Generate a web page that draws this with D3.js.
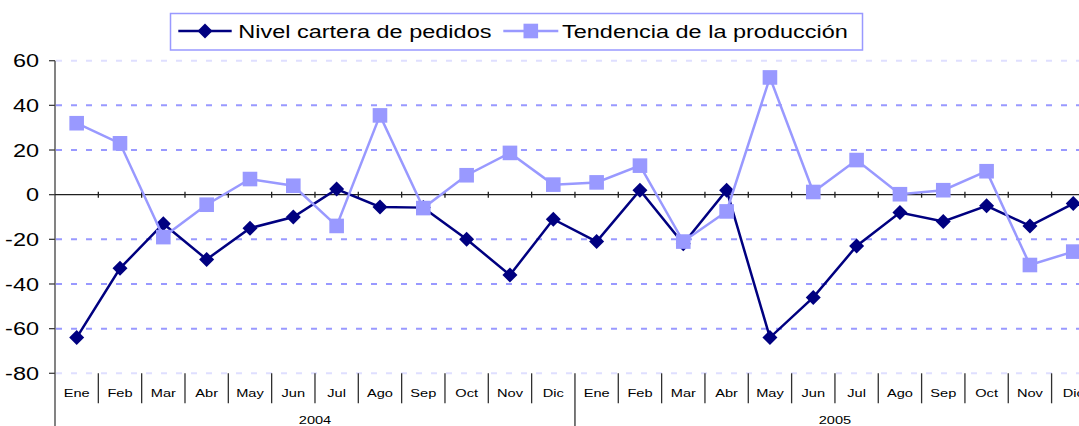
<!DOCTYPE html>
<html>
<head>
<meta charset="utf-8">
<script src="https://cdn.jsdelivr.net/npm/d3@7"></script>
<style>
  body { margin: 0; background: #fff; }
  svg { display: block; font-family: "Liberation Sans", Arial, sans-serif; }
</style>
</head>
<body>
<script>
// chart data
var months = ["Ene","Feb","Mar","Abr","May","Jun","Jul","Ago","Sep","Oct","Nov","Dic"];
var years = ["2004", "2005"];
var nivelCartera = [-64, -33, -13, -29, -15, -10, 2.5, -5.5, -5.8, -20, -36, -11,
                    -21, 2, -22, 2, -64, -46, -23, -8, -12, -5, -14, -4];
var tendencia = [32, 23, -19, -4.5, 7, 4, -14, 35.5, -6, 8.7, 18.7, 4.5,
                 5.5, 13, -21, -7.5, 52.5, 1.2, 15.5, 0.2, 2, 10.5, -31.5, -25.5];
var yTicks = [-80, -60, -40, -20, 0, 20, 40, 60];
var seriesNames = ["Nivel cartera de pedidos", "Tendencia de la producción"];

var W = 1079, H = 426;
var stretch = 1.27; // the source image is stretched horizontally

var svg = d3.select("body").append("svg")
    .attr("width", W)
    .attr("height", H);

// one key per month of each year
var keys = [];
years.forEach(function(yr) {
    months.forEach(function(m) { keys.push(yr + "-" + m); });
});

var x = d3.scaleBand()
    .domain(keys)
    .range([55, 55 + 24 * 43.33])
    .padding(0);

var y = d3.scaleLinear()
    .domain([-80, 60])
    .range([373.3, 60.7]);

function label(g, txt, px, py, size, anchor) {
    return g.append("text")
        .attr("transform", "translate(" + px + "," + py + ") scale(" + stretch + ",1)")
        .attr("text-anchor", anchor || "middle")
        .attr("font-size", size)
        .attr("fill", "#000")
        .text(txt);
}

// gridlines
svg.append("g").selectAll("line")
    .data(yTicks.filter(function(d) { return d != 0; }))
    .enter().append("line")
    .attr("x1", 56)
    .attr("x2", W)
    .attr("y1", function(d) { return y(d); })
    .attr("y2", function(d) { return y(d); })
    .attr("stroke", "#9999FF")
    .attr("stroke-width", 2)
    .attr("stroke-dasharray", "6,9")
    .attr("opacity", function(d) { return (d == 60 || d == -80) ? 0.3 : 1; });

// y axis
var yAxis = svg.append("g");
yAxis.append("line")
    .attr("x1", 55).attr("x2", 55)
    .attr("y1", y(60)).attr("y2", H)
    .attr("stroke", "#404040").attr("stroke-width", 1.3);
yAxis.selectAll("line.tick")
    .data(yTicks)
    .enter().append("line")
    .attr("class", "tick")
    .attr("x1", 49).attr("x2", 55)
    .attr("y1", function(d) { return y(d); })
    .attr("y2", function(d) { return y(d); })
    .attr("stroke", "#404040").attr("stroke-width", 1.3);
yTicks.forEach(function(t) {
    label(yAxis, t, 39, y(t) + 6.6, 18.5, "end");
});

// zero line with ticks at band edges
var zeroAxis = svg.append("g");
zeroAxis.append("line")
    .attr("x1", 55).attr("x2", W)
    .attr("y1", y(0)).attr("y2", y(0))
    .attr("stroke", "#202020").attr("stroke-width", 1.3);
zeroAxis.selectAll("line.tick")
    .data(keys.slice(1))
    .enter().append("line")
    .attr("class", "tick")
    .attr("x1", function(d) { return x(d); })
    .attr("x2", function(d) { return x(d); })
    .attr("y1", y(0) - 3).attr("y2", y(0) + 3)
    .attr("stroke", "#202020").attr("stroke-width", 1.3);

// category axis at the bottom
var cat = svg.append("g");
cat.selectAll("line.div")
    .data(keys.slice(1))
    .enter().append("line")
    .attr("class", "div")
    .attr("x1", function(d) { return x(d); })
    .attr("x2", function(d) { return x(d); })
    .attr("y1", 373.3)
    .attr("y2", function(d, i) { return (i + 1) % 12 == 0 ? H : 403.3; })
    .attr("stroke", "#303030").attr("stroke-width", 1.3);
keys.forEach(function(k) {
    label(cat, k.split("-")[1], x(k) + x.bandwidth() / 2, 397, 11.5);
});
years.forEach(function(yr) {
    var x0 = x(yr + "-Ene"), x1 = x(yr + "-Dic") + x.bandwidth();
    label(cat, yr, (x0 + x1) / 2, 424, 11.5);
});

// series
var line = d3.line()
    .x(function(d, i) { return x(keys[i]) + x.bandwidth() / 2; })
    .y(function(d) { return y(d); });

function diamond(r) {
    return "M0," + (-r) + "L" + r + ",0L0," + r + "L" + (-r) + ",0Z";
}

svg.append("path")
    .datum(nivelCartera)
    .attr("d", line)
    .attr("fill", "none")
    .attr("stroke", "#000080")
    .attr("stroke-width", 2.5);
svg.append("g").selectAll("path")
    .data(nivelCartera)
    .enter().append("path")
    .attr("d", diamond(7.5))
    .attr("transform", function(d, i) {
        return "translate(" + (x(keys[i]) + x.bandwidth() / 2) + "," + y(d) + ")";
    })
    .attr("fill", "#000080");

svg.append("path")
    .datum(tendencia)
    .attr("d", line)
    .attr("fill", "none")
    .attr("stroke", "#9999FF")
    .attr("stroke-width", 2.5);
svg.append("g").selectAll("rect")
    .data(tendencia)
    .enter().append("rect")
    .attr("x", function(d, i) { return x(keys[i]) + x.bandwidth() / 2 - 7.3; })
    .attr("y", function(d) { return y(d) - 7.3; })
    .attr("width", 14.6)
    .attr("height", 14.6)
    .attr("fill", "#9999FF");

// legend
var legend = svg.append("g");
legend.append("rect")
    .attr("x", 170.5).attr("y", 13.5)
    .attr("width", 692).attr("height", 36.5)
    .attr("fill", "#fff")
    .attr("stroke", "#9999FF").attr("stroke-width", 1.5);

legend.append("line")
    .attr("x1", 178.3).attr("x2", 231.7)
    .attr("y1", 31).attr("y2", 31)
    .attr("stroke", "#000080").attr("stroke-width", 2.5);
legend.append("path")
    .attr("d", diamond(7.5))
    .attr("transform", "translate(205,31)")
    .attr("fill", "#000080");
label(legend, seriesNames[0], 238.3, 38.3, 18.5, "start");

legend.append("line")
    .attr("x1", 503.3).attr("x2", 558.3)
    .attr("y1", 31).attr("y2", 31)
    .attr("stroke", "#9999FF").attr("stroke-width", 2.5);
legend.append("rect")
    .attr("x", 523.5).attr("y", 23.7)
    .attr("width", 14.6).attr("height", 14.6)
    .attr("fill", "#9999FF");
label(legend, seriesNames[1], 562, 38.3, 18.5, "start");
</script>
</body>
</html>
